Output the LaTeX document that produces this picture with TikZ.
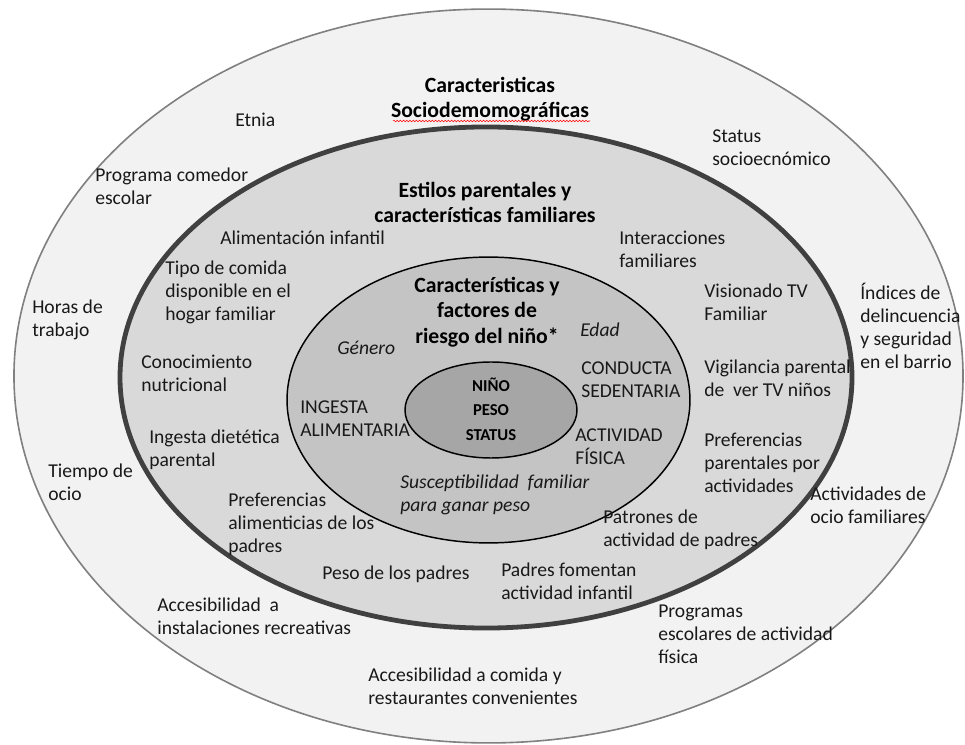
\documentclass[tikz,border=0pt]{standalone}
\usepackage{fontspec}
\setmainfont{Carlito}
\usetikzlibrary{decorations.pathmorphing}
\tikzset{
  lbl/.style={anchor=west, inner sep=0pt, align=left, text=black!90,
    font=\fontsize{14.7}{17.25}\selectfont},
  ttl/.style={anchor=center, inner sep=0pt, align=center, text=black,
    font=\fontsize{16.3}{17.1}\selectfont\bfseries},
  itl/.style={lbl, font=\fontsize{14.7}{17.25}\selectfont\itshape},
  core/.style={anchor=center, inner sep=0pt, align=center,
    font=\fontsize{12.5}{18.4}\selectfont\bfseries},
}
\begin{document}
\begin{tikzpicture}[x=0.75pt,y=-0.75pt]
\useasboundingbox (0,0) rectangle (965,745);
% rings
\fill[white] (0,0) rectangle (965,745);
\draw[fill={rgb,255:red,242;green,242;blue,242}, draw={rgb,255:red,128;green,128;blue,128}, line width=1.2pt]
  (488.5,376) ellipse [x radius=355.9pt, y radius=275.2pt];
\draw[fill={rgb,255:red,217;green,217;blue,217}, draw={rgb,255:red,64;green,64;blue,64}, line width=3.6pt]
  (486,377.5) ellipse [x radius=274.5pt, y radius=187.9pt];
\draw[fill={rgb,255:red,196;green,196;blue,196}, draw=black, line width=1.1pt]
  (488.5,400) ellipse [x radius=151.1pt, y radius=107.2pt];
\draw[fill={rgb,255:red,166;green,166;blue,166}, draw=black, line width=1.1pt]
  (491,410) ellipse [x radius=64.5pt, y radius=36pt];

% outer ring
\node[ttl] (tSocio) at (490,99) {Caracteristicas\\[1.5pt]Sociodemomográficas};
\draw[red, line width=0.4pt, decorate, decoration={snake, amplitude=0.6pt, segment length=2.4pt}]
  (393,121) -- (590,121);
\node[lbl] (etnia) at (235,120) {Etnia};
\node[lbl] (status) at (712,148) {Status\\socioecnómico};
\node[lbl] (comedor) at (95,186.5) {Programa comedor\\escolar};
\node[lbl] (horas) at (32,319.5) {Horas de\\trabajo};
\node[lbl] (indices) at (860,325.5) {Índices de\\delincuencia\\y seguridad\\en el barrio};
\node[lbl] (tiempo) at (48,482.5) {Tiempo de\\ocio};
\node[lbl] (actocio) at (810,505.5) {Actividades de\\ocio familiares};
\node[lbl] (accrec) at (157,616.5) {Accesibilidad\ \ a\\instalaciones recreativas};
\node[lbl] (progesc) at (658,634) {Programas\\escolares de actividad\\física};
\node[lbl] (acccom) at (368,686.5) {Accesibilidad a comida y\\restaurantes convenientes};

% middle ring
\node[ttl] (tEstilos) at (485,202.5) {Estilos parentales y\\[1.5pt]características familiares};
\node[lbl] (alim) at (220,238) {Alimentación infantil};
\node[lbl] (inter) at (619,249.5) {Interacciones\\familiares};
\node[lbl] (tipo) at (165,292) {Tipo de comida\\disponible en el\\hogar familiar};
\node[lbl] (visio) at (704,302) {Visionado TV\\Familiar};
\node[lbl] (conoc) at (141,373.5) {Conocimiento\\nutricional};
\node[lbl] (vigil) at (704,378.5) {Vigilancia parental\\de\ \ ver TV niños};
\node[lbl] (ingdiet) at (149,450) {Ingesta dietética\\parental};
\node[lbl] (prefact) at (704,463) {Preferencias\\parentales por\\actividades};
\node[lbl] (prefalim) at (228,524) {Preferencias\\alimenticias de los\\padres};
\node[lbl] (patron) at (603,529.5) {Patrones de\\actividad de padres};
\node[lbl] (pesopad) at (322,574) {Peso de los padres};
\node[lbl] (fomentan) at (501,581.5) {Padres fomentan\\actividad infantil};

% inner ellipse
\node[ttl] (tNino) at (487,312) {Características y\\[2pt]factores de\\[2pt]riesgo del niño*};
\node[itl] (genero) at (337,348) {Género};
\node[itl] (edad) at (580,330) {Edad};
\node[lbl] (conducta) at (581,380) {CONDUCTA\\SEDENTARIA};
\node[lbl] (ingesta) at (300,418.5) {INGESTA\\ALIMENTARIA};
\node[lbl] (activ) at (575,446.5) {ACTIVIDAD\\FÍSICA};
\node[itl] (suscep) at (400,494.5) {Susceptibilidad\ \ familiar\\para ganar peso};

% core
\node[core] (core) at (491,409) {NIÑO\\PESO\\STATUS};
\end{tikzpicture}
\end{document}
